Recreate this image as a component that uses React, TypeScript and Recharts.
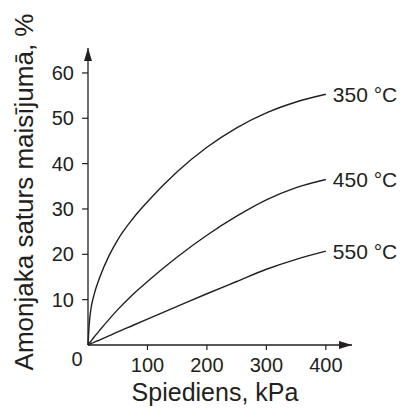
import React from "react"
import { LineChart, Line, XAxis, YAxis, Label } from "recharts"

const pressure = [0, 2, 5, 10, 20, 35, 50, 75, 100, 150, 200, 250, 300, 350, 400]
const t350 = [0, 4.5, 8, 11, 15, 19.6, 23.2, 27.8, 31.6, 38.2, 43.6, 47.9, 51.2, 53.6, 55.3]
const t450 = [0, 0.35, 0.85, 1.7, 3.3, 5.6, 7.8, 11.1, 14, 19.4, 24.2, 28.4, 32, 34.7, 36.5]
const t550 = [0, 0.12, 0.3, 0.6, 1.15, 2, 2.9, 4.3, 5.7, 8.5, 11.3, 14, 16.7, 18.9, 20.7]
const xTicks = [100, 200, 300, 400]
const yTicks = [0, 10, 20, 30, 40, 50, 60]
const seriesNames = ["350 °C", "450 °C", "550 °C"]

const data = pressure.map((p, i) => ({ p, a: t350[i], b: t450[i], c: t550[i] }))

const ink = "#231f20"
const font = "'Liberation Sans', Arial, sans-serif"

const YTick = (props: any) => {
  const { x, y, payload } = props
  if (payload.value === 0) {
    return (
      <text x={x - 11} y={y + 14} textAnchor="middle" dominantBaseline="central" fontSize={20} fill={ink} fontFamily={font}>
        0
      </text>
    )
  }
  return (
    <g>
      <line x1={x - 6} x2={x} y1={y} y2={y} stroke={ink} strokeWidth={1.2} />
      <text x={x - 14} y={y} textAnchor="end" dominantBaseline="central" fontSize={20} fill={ink} fontFamily={font}>
        {payload.value}
      </text>
    </g>
  )
}

const XTick = (props: any) => {
  const { x, y, payload } = props
  return (
    <g>
      <line x1={x} x2={x} y1={y} y2={y + 5} stroke={ink} strokeWidth={1.2} />
      <text x={x} y={y + 20} textAnchor="middle" dominantBaseline="central" fontSize={20} fill={ink} fontFamily={font}>
        {payload.value}
      </text>
    </g>
  )
}

const endLabel = (name: string) => (props: any) => {
  const { x, y, index } = props
  if (index !== data.length - 1) return null
  return (
    <text x={x + 7} y={y} dominantBaseline="central" fontSize={21} fill={ink} fontFamily={font}>
      {name}
    </text>
  )
}

export default function App() {
  return (
    <div style={{ position: "absolute", left: 0, top: 0, width: 401, height: 408, background: "#fff" }}>
      <svg width={0} height={0} style={{ position: "absolute" }}>
        <defs>
          <marker id="arr" markerUnits="userSpaceOnUse" markerWidth={13} markerHeight={8} viewBox="0 0 13 8" refX={13} refY={4} orient="auto-start-reverse">
            <path d="M0,0 L13,4 L0,8 Z" fill={ink} />
          </marker>
        </defs>
      </svg>
      <LineChart width={401} height={408} data={data} margin={{ top: 48, right: 49, left: 28, bottom: 33 }}>
        <XAxis
          dataKey="p"
          type="number"
          domain={[0, 444]}
          ticks={xTicks}
          interval={0}
          tickSize={0}
          tickMargin={0}
          tickLine={false}
          tick={<XTick />}
          height={30}
          axisLine={{ stroke: ink, strokeWidth: 1.3, markerEnd: "url(#arr)" } as any}
        >
          <Label
            content={() => (
              <text x={215} y={401} textAnchor="middle" fontSize={25} fill={ink} fontFamily={font}>
                Spiediens, kPa
              </text>
            )}
          />
        </XAxis>
        <YAxis
          type="number"
          domain={[0, 65.5]}
          ticks={yTicks}
          interval={0}
          tickSize={0}
          tickMargin={0}
          tickLine={false}
          tick={<YTick />}
          width={60}
          axisLine={{ stroke: ink, strokeWidth: 1.3, markerStart: "url(#arr)" } as any}
        >
          <Label
            content={() => (
              <text
                x={33}
                y={192}
                textAnchor="middle"
                transform="rotate(-90 33 192)"
                fontSize={26}
                fill={ink}
                fontFamily={font}
              >
                Amonjaka saturs maisījumā, %
              </text>
            )}
          />
        </YAxis>
        <Line dataKey="a" type="monotone" stroke={ink} strokeWidth={1.4} dot={false} isAnimationActive={false} label={endLabel(seriesNames[0])} />
        <Line dataKey="b" type="monotone" stroke={ink} strokeWidth={1.4} dot={false} isAnimationActive={false} label={endLabel(seriesNames[1])} />
        <Line dataKey="c" type="monotone" stroke={ink} strokeWidth={1.4} dot={false} isAnimationActive={false} label={endLabel(seriesNames[2])} />
      </LineChart>
    </div>
  )
}
